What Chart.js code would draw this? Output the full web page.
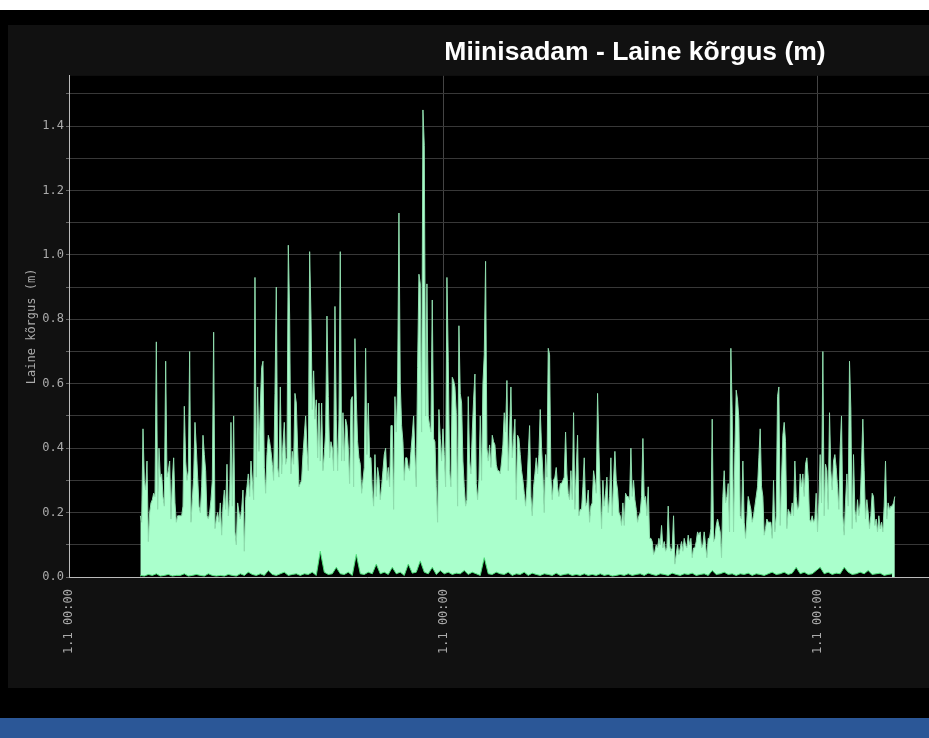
<!DOCTYPE html>
<html>
<head>
<meta charset="utf-8">
<script src="https://cdn.jsdelivr.net/npm/chart.js@4"></script>
<style>
  body { margin: 0; background: #000; width: 929px; height: 738px; overflow: hidden; position: relative; }
  #top { position: absolute; left: 0; top: 0; width: 929px; height: 10px; background: #fff; }
  #bar { position: absolute; left: 0; top: 718px; width: 929px; height: 20px; background: #2b5797; }
  #myChart { position: absolute; left: 8px; top: 25px; background: #111; }
</style>
</head>
<body>
<div id="top"></div>
<canvas id="myChart" width="1264" height="663"></canvas>
<div id="bar"></div>
<script>
// time axis in days, one label every 100 days
const xTickLabels = ['1.1 00:00', '1.1 00:00', '1.1 00:00', '1.1 00:00'];
const startDay = 19.05;
const maxStep = 0.356;
const minStep = 1.068;

// wave height maximum per sample (m)
const waveMax = [
  0.19,0.17,0.46,0.30,0.27,0.36,0.11,0.20,0.23,0.24,
  0.26,0.25,0.73,0.21,0.40,0.31,0.32,0.25,0.22,0.67,
  0.31,0.33,0.36,0.18,0.30,0.37,0.23,0.17,0.19,0.19,
  0.19,0.19,0.22,0.53,0.36,0.30,0.33,0.70,0.17,0.24,
  0.31,0.48,0.40,0.31,0.22,0.20,0.28,0.44,0.38,0.33,
  0.19,0.18,0.20,0.24,0.30,0.76,0.15,0.18,0.20,0.17,
  0.23,0.13,0.22,0.27,0.21,0.35,0.19,0.24,0.48,0.22,
  0.50,0.14,0.10,0.23,0.20,0.18,0.21,0.27,0.08,0.24,
  0.28,0.32,0.25,0.36,0.30,0.24,0.93,0.31,0.59,0.39,
  0.53,0.65,0.67,0.34,0.26,0.38,0.44,0.42,0.39,0.35,
  0.30,0.57,0.90,0.34,0.31,0.59,0.32,0.41,0.48,0.35,
  0.37,1.03,0.81,0.32,0.39,0.35,0.57,0.54,0.40,0.28,
  0.29,0.30,0.38,0.44,0.50,0.40,0.33,1.01,0.81,0.52,
  0.64,0.49,0.55,0.37,0.54,0.36,0.54,0.33,0.38,0.45,
  0.81,0.56,0.37,0.42,0.40,0.33,0.84,0.49,0.33,0.49,
  1.01,0.36,0.51,0.36,0.49,0.47,0.40,0.29,0.55,0.56,
  0.28,0.74,0.55,0.42,0.37,0.35,0.26,0.30,0.34,0.71,
  0.38,0.54,0.37,0.37,0.27,0.22,0.38,0.25,0.34,0.31,
  0.24,0.28,0.33,0.38,0.40,0.30,0.34,0.28,0.47,0.47,
  0.21,0.56,0.45,0.59,1.13,0.60,0.47,0.42,0.30,0.37,
  0.37,0.34,0.33,0.39,0.44,0.50,0.38,0.28,0.65,0.94,
  0.91,0.45,1.45,1.34,0.50,0.91,0.50,0.47,0.45,0.86,
  0.43,0.42,0.28,0.17,0.52,0.43,0.36,0.46,0.38,0.28,
  0.93,0.67,0.33,0.28,0.62,0.61,0.59,0.51,0.22,0.78,
  0.57,0.54,0.36,0.28,0.22,0.24,0.56,0.36,0.32,0.45,
  0.55,0.63,0.29,0.24,0.30,0.50,0.30,0.60,0.69,0.98,
  0.40,0.36,0.41,0.34,0.44,0.42,0.41,0.35,0.33,0.33,
  0.32,0.36,0.41,0.51,0.45,0.61,0.33,0.45,0.59,0.37,
  0.43,0.49,0.24,0.44,0.43,0.38,0.33,0.30,0.26,0.22,
  0.28,0.38,0.47,0.25,0.19,0.28,0.32,0.37,0.32,0.38,
  0.52,0.40,0.32,0.20,0.38,0.31,0.71,0.69,0.31,0.24,
  0.30,0.31,0.34,0.28,0.25,0.29,0.29,0.30,0.31,0.45,
  0.32,0.26,0.24,0.33,0.24,0.51,0.21,0.33,0.44,0.19,
  0.21,0.21,0.28,0.37,0.22,0.23,0.27,0.17,0.22,0.23,
  0.33,0.30,0.26,0.57,0.40,0.26,0.15,0.30,0.22,0.26,
  0.31,0.20,0.25,0.37,0.19,0.30,0.39,0.30,0.27,0.20,
  0.19,0.16,0.23,0.16,0.26,0.25,0.25,0.24,0.40,0.25,
  0.30,0.24,0.21,0.17,0.19,0.20,0.25,0.43,0.24,0.25,
  0.19,0.28,0.12,0.12,0.11,0.07,0.08,0.10,0.09,0.12,
  0.10,0.16,0.09,0.11,0.08,0.09,0.22,0.10,0.08,0.09,
  0.19,0.04,0.07,0.10,0.07,0.09,0.11,0.08,0.12,0.10,
  0.09,0.13,0.10,0.12,0.06,0.09,0.09,0.11,0.14,0.13,
  0.14,0.09,0.10,0.14,0.10,0.06,0.12,0.12,0.15,0.49,
  0.11,0.12,0.16,0.18,0.16,0.14,0.06,0.25,0.33,0.23,
  0.25,0.29,0.14,0.71,0.51,0.14,0.39,0.58,0.55,0.49,
  0.19,0.18,0.36,0.17,0.12,0.18,0.25,0.23,0.21,0.17,
  0.19,0.22,0.25,0.28,0.37,0.46,0.28,0.25,0.13,0.15,
  0.18,0.17,0.17,0.17,0.12,0.30,0.14,0.19,0.56,0.59,
  0.16,0.30,0.44,0.48,0.42,0.15,0.21,0.20,0.19,0.23,
  0.19,0.36,0.25,0.21,0.22,0.32,0.28,0.32,0.25,0.35,
  0.37,0.31,0.18,0.17,0.19,0.17,0.18,0.26,0.14,0.23,
  0.38,0.23,0.70,0.19,0.35,0.33,0.21,0.51,0.33,0.27,
  0.36,0.38,0.34,0.28,0.21,0.40,0.50,0.19,0.13,0.23,
  0.32,0.22,0.67,0.52,0.15,0.38,0.21,0.17,0.24,0.19,
  0.23,0.35,0.49,0.33,0.18,0.24,0.20,0.15,0.19,0.26,
  0.25,0.16,0.18,0.14,0.19,0.15,0.17,0.14,0.22,0.36,
  0.18,0.23,0.21,0.22,0.22,0.23,0.25
];

// wave height minimum per sample (m)
const waveMin = [
  0.005,0.003,0.008,0.005,0.01,0.003,0.005,0.008,0.003,0.005,
  0.005,0.01,0.003,0.005,0.008,0.005,0.003,0.01,0.005,0.003,
  0.005,0.003,0.008,0.005,0.003,0.01,0.005,0.015,0.008,0.005,
  0.01,0.005,0.02,0.008,0.005,0.01,0.015,0.005,0.008,0.01,
  0.005,0.01,0.008,0.015,0.005,0.08,0.015,0.008,0.01,0.03,
  0.01,0.008,0.015,0.005,0.07,0.01,0.008,0.015,0.01,0.04,
  0.01,0.015,0.008,0.03,0.01,0.015,0.005,0.04,0.012,0.015,
  0.05,0.015,0.01,0.03,0.008,0.02,0.01,0.015,0.008,0.012,
  0.01,0.02,0.008,0.015,0.01,0.005,0.06,0.01,0.008,0.015,
  0.01,0.008,0.015,0.005,0.01,0.008,0.015,0.005,0.012,0.008,
  0.005,0.01,0.008,0.005,0.012,0.005,0.008,0.01,0.005,0.008,
  0.005,0.01,0.005,0.008,0.005,0.01,0.005,0.008,0.003,0.005,
  0.008,0.005,0.01,0.005,0.008,0.01,0.005,0.012,0.008,0.005,
  0.01,0.008,0.005,0.012,0.008,0.005,0.01,0.008,0.012,0.005,
  0.008,0.01,0.005,0.02,0.008,0.01,0.015,0.008,0.01,0.005,
  0.01,0.008,0.012,0.005,0.01,0.008,0.005,0.01,0.015,0.008,
  0.01,0.015,0.008,0.012,0.03,0.01,0.015,0.008,0.01,0.02,
  0.03,0.01,0.015,0.008,0.012,0.01,0.03,0.015,0.008,0.01,
  0.015,0.01,0.02,0.008,0.01,0.012,0.005,0.008,0.01
];

const maxPoints = waveMax.map((v, i) => ({ x: startDay + i * maxStep, y: v }));
const minPoints = waveMin.map((v, i) => ({ x: startDay + i * minStep, y: v }));

const plotBackground = {
  id: 'plotBackground',
  beforeDraw(chart) {
    const { ctx, chartArea } = chart;
    ctx.save();
    ctx.fillStyle = '#000';
    ctx.fillRect(chartArea.left, chartArea.top, chartArea.right - chartArea.left, chartArea.bottom - chartArea.top);
    ctx.restore();
  }
};

const mono = { family: 'DejaVu Sans Mono', size: 12 };

const config = {
  type: 'line',
  data: {
    datasets: [{
      label: 'min',
      data: minPoints,
      borderColor: '#4fe07a',
      borderWidth: 1,
      backgroundColor: '#000',
      fill: 'origin',
      pointRadius: 0,
      tension: 0
    }, {
      label: 'max',
      data: maxPoints,
      borderColor: '#8fdcad',
      borderWidth: 1,
      backgroundColor: '#aaffcc',
      fill: 'origin',
      pointRadius: 0,
      tension: 0
    }]
  },
  options: {
    responsive: false,
    animation: false,
    layout: { padding: { left: 0, right: 10, top: 0, bottom: 0 } },
    plugins: {
      legend: { display: false },
      tooltip: { enabled: false },
      title: {
        display: true,
        text: 'Miinisadam - Laine kõrgus (m)',
        color: '#fff',
        font: { family: 'Liberation Sans', size: 26.5, weight: 'bold', lineHeight: 1.2 },
        padding: { top: 12, bottom: 7 }
      }
    },
    scales: {
      x: {
        type: 'linear',
        min: 0,
        max: 318.6,
        afterFit(scale) { scale.height = 111; },
        ticks: {
          stepSize: 100,
          includeBounds: false,
          autoSkip: false,
          minRotation: 90,
          maxRotation: 90,
          padding: 12,
          color: '#aaa',
          font: mono,
          callback: (v, i) => xTickLabels[i]
        },
        grid: { color: '#444', drawTicks: false },
        border: { color: '#bbb' }
      },
      y: {
        min: 0,
        max: 1.556,
        afterFit(scale) { scale.width = 61; },
        ticks: {
          stepSize: 0.1,
          includeBounds: false,
          padding: 2,
          color: '#aaa',
          font: mono,
          callback: v => (Math.round(v * 10) % 2 === 0 ? v.toFixed(1) : '')
        },
        grid: { color: '#383838', tickLength: 3, tickColor: '#666' },
        border: { color: '#bbb' },
        title: {
          display: true,
          text: 'Laine kõrgus (m)',
          color: '#aaa',
          font: mono,
          padding: { top: 17, bottom: 0 }
        }
      }
    }
  },
  plugins: [plotBackground]
};

const myChart = new Chart(document.getElementById('myChart'), config);
</script>
</body>
</html>
